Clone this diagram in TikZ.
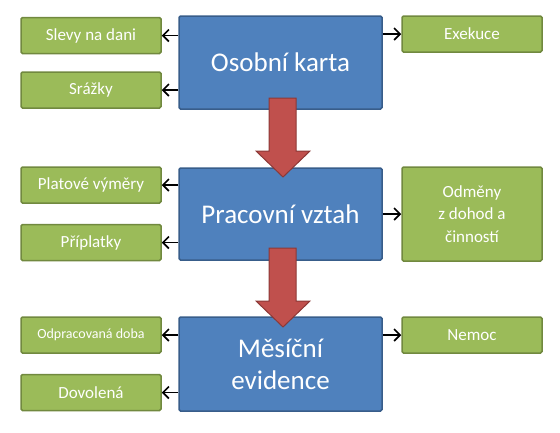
\documentclass[tikz,border=0pt]{standalone}
\usepackage{fontspec}
\setmainfont{Carlito}
\usetikzlibrary{positioning,arrows.meta}
\definecolor{boxblue}{HTML}{4F81BD}
\definecolor{lineblue}{HTML}{385D8A}
\definecolor{boxgreen}{HTML}{9BBB59}
\definecolor{linegreen}{HTML}{71893F}
\definecolor{boxred}{HTML}{C0504D}
\definecolor{linered}{HTML}{8C3836}

\begin{document}
\begin{tikzpicture}[x=1pt,y=-1pt,
						mainbox/.style={rectangle, draw=lineblue, line width=1.5pt, fill=boxblue, rounded corners=1.5pt, minimum width=203pt, text=white, font=\fontsize{27}{32}\selectfont, align=center},
						sidebox/.style={rectangle, draw=linegreen, line width=1.5pt, fill=boxgreen, rounded corners=1.5pt, minimum width=140pt, minimum height=36pt, text=white, font=\fontsize{17}{22.5}\selectfont, align=center},
						blockarrow/.style={draw=linered, line width=1pt, fill=boxred},
						link/.style={line width=1.6pt, -{Straight Barb[length=6pt,width=12pt,line width=1.6pt]}},
						]
						\useasboundingbox (0,0) rectangle (560,432);
						%Nodes
						\node[mainbox, minimum height=93pt]      (karta) 	at 	(280.5,62.5)      {Osobní karta};
						\node[mainbox, minimum height=92pt]      (vztah) 	at 	(280.5,214)       {Pracovní vztah};
						\node[mainbox, minimum height=94pt]      (evid) 	at 	(280.5,364)       {Měsíční\\evidence};
						\node[sidebox]      (slevy) 	at 	(91,35.5)       {Slevy na dani};
						\node[sidebox]      (srazky) 	at 	(91,90)         {Srážky};
						\node[sidebox]      (exek) 	at 	(472,34)        {Exekuce};
						\node[sidebox]      (vymery) 	at 	(91,185)        {Platové výměry};
						\node[sidebox]      (priplat) 	at 	(91,242.5)      {Příplatky};
						\node[sidebox, minimum height=94pt]      (odmeny) 	at 	(472,214)       {Odměny\\z dohod a\\činností};
						\node[sidebox, font=\fontsize{14}{17}\selectfont]      (odprac) 	at 	(91,335)        {Odpracovaná doba};
						\node[sidebox]      (dovol) 	at 	(91,392.5)      {Dovolená};
						\node[sidebox]      (nemoc) 	at 	(472,335)       {Nemoc};
						
						%Lines
						\draw[link] (karta.west |- slevy) -- (slevy.east);
						\draw[link] (karta.west |- srazky) -- (srazky.east);
						\draw[link] (karta.east |- exek) -- (exek.west);
						\draw[link] (vztah.west |- vymery) -- (vymery.east);
						\draw[link] (vztah.west |- priplat) -- (priplat.east);
						\draw[link] (vztah.east) -- (odmeny.west);
						\draw[link] (evid.west |- odprac) -- (odprac.east);
						\draw[link] (evid.west |- dovol) -- (dovol.east);
						\draw[link] (evid.east |- nemoc) -- (nemoc.west);
						
						%Block arrows
						\draw[blockarrow] (269,98) -- (296,98) -- (296,151) -- (310,151) -- (283,177) -- (256,151) -- (269,151) -- cycle;
						\draw[blockarrow] (269,248) -- (296,248) -- (296,301) -- (310,301) -- (283,327) -- (256,301) -- (269,301) -- cycle;
					\end{tikzpicture}
\end{document}
